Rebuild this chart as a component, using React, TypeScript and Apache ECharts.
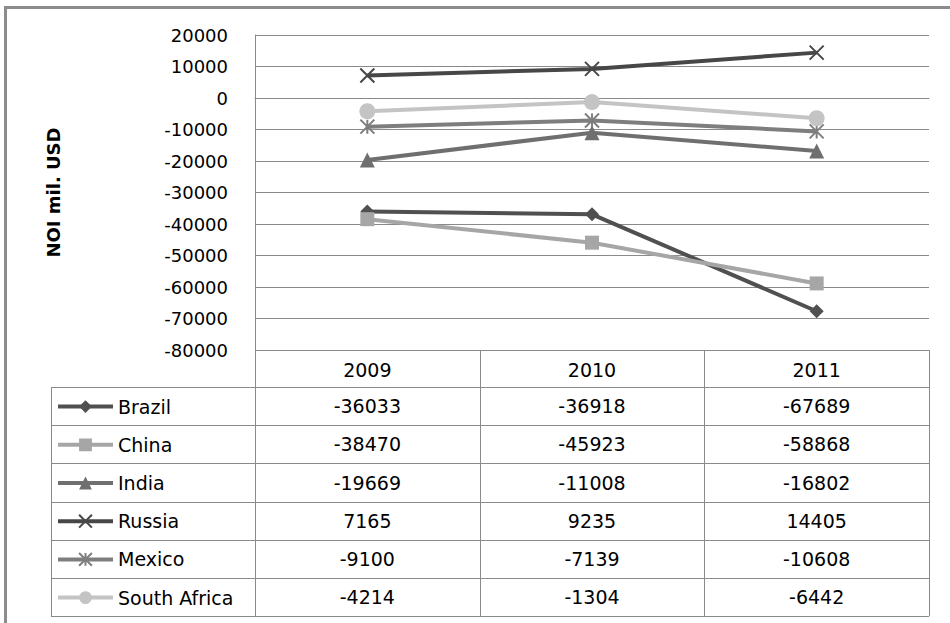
import React, { useEffect, useRef } from "react";
import * as echarts from "echarts";

// ---- data ----
const years = ["2009", "2010", "2011"];
const countries = ["Brazil", "China", "India", "Russia", "Mexico", "South Africa"];
const brazil = [-36033, -36918, -67689];
const china = [-38470, -45923, -58868];
const india = [-19669, -11008, -16802];
const russia = [7165, 9235, 14405];
const mexico = [-9100, -7139, -10608];
const southAfrica = [-4214, -1304, -6442];
const values = [brazil, china, india, russia, mexico, southAfrica];
const yMin = -80000;
const yMax = 20000;
const yStep = 10000;
const yTitle = "NOI mil. USD";

// ---- styles ----
const colors = ["#505050", "#a6a6a6", "#6f6f6f", "#474747", "#7e7e7e", "#c4c4c4"];
const symbols = [
  "diamond",
  "rect",
  "triangle",
  "path://M0,0L10,10M10,0L0,10",
  "path://M0,0L10,10M10,0L0,10M5,0L5,10",
  "circle",
];
const symbolSizes = [14, 14, 15, 14, 14, 16];
const FONT = "DejaVu Sans";
const GRID_COLOR = "#8a8a8a";

const W = 950;
const H = 623;
const GRID_L = 255;
const GRID_R = 929;
const GRID_T = 35;
const GRID_B = 350;
const HEADER_H = 37;
const ROW_H = 38.2;
const TABLE_L = 51;

export default function App() {
  const ref = useRef<HTMLDivElement>(null);

  useEffect(() => {
    document.body.style.margin = "0";
    const chart = echarts.init(ref.current!, null, { renderer: "svg" });
    const rowsTop = GRID_B + HEADER_H;
    const rowCenter = (i: number) => rowsTop + ROW_H * i + ROW_H / 2;

    const series = countries.map((name, i) => {
      const isStroke = i === 3 || i === 4;
      return {
        name,
        type: "line",
        data: values[i],
        symbol: symbols[i],
        symbolSize: symbolSizes[i],
        showAllSymbol: true,
        lineStyle: { color: colors[i], width: 4 },
        itemStyle: isStroke
          ? { color: "rgba(0,0,0,0)", borderColor: colors[i], borderWidth: 2 }
          : { color: colors[i], borderWidth: 0 },
        emphasis: { disabled: true },
        z: 2 + i,
      };
    });

    const legends = countries.map((name, i) => ({
      data: [name],
      left: 56,
      top: rowCenter(i) - 9,
      orient: "vertical",
      itemWidth: 55,
      itemHeight: 16,
      padding: 0,
      selectedMode: false,
      lineStyle: { width: 4 },
      textStyle: { fontFamily: FONT, fontSize: 19, color: "#000", lineHeight: 16 },
    }));

    chart.setOption({
      animation: false,
      backgroundColor: "#fff",
      grid: { left: GRID_L, right: W - GRID_R, top: GRID_T, bottom: H - GRID_B, containLabel: false },
      legend: legends,
      xAxis: {
        type: "category",
        data: years,
        boundaryGap: true,
        axisLine: { show: true, lineStyle: { color: GRID_COLOR, width: 1 } },
        axisTick: { show: false },
        axisLabel: { margin: 10, fontFamily: FONT, fontSize: 19, color: "#000" },
        splitLine: { show: false },
      },
      yAxis: {
        type: "value",
        min: yMin,
        max: yMax,
        interval: yStep,
        axisLine: { show: true, lineStyle: { color: GRID_COLOR, width: 1 } },
        axisTick: { show: false },
        axisLabel: {
          margin: 27,
          fontFamily: FONT,
          fontSize: 18,
          color: "#000",
          formatter: (v: number) => String(v),
        },
        splitLine: { show: true, lineStyle: { color: GRID_COLOR, width: 1 } },
        name: yTitle,
        nameLocation: "middle",
        nameRotate: 90,
        nameGap: 193,
        nameTextStyle: { fontFamily: FONT, fontSize: 18, fontWeight: "bold", color: "#000" },
      },
      series,
    });

    // table built from the axis scale
    const centers = years.map((y) => chart.convertToPixel({ xAxisIndex: 0 }, y) as number);
    const band = centers.length > 1 ? centers[1] - centers[0] : GRID_R - GRID_L;
    const bottom = rowsTop + ROW_H * countries.length;
    const lineStyle = { stroke: GRID_COLOR, lineWidth: 1 };
    const graphic: any[] = [];
    // outer frame
    graphic.push({ type: "line", shape: { x1: 4, y1: 7.5, x2: W, y2: 7.5 }, style: { stroke: "#8c8c8c", lineWidth: 3 } });
    graphic.push({ type: "line", shape: { x1: 5.5, y1: 6, x2: 5.5, y2: H }, style: { stroke: "#8c8c8c", lineWidth: 3 } });
    // horizontal lines
    for (let i = 0; i <= countries.length; i++) {
      const y = Math.round(rowsTop + ROW_H * i) + 0.5;
      graphic.push({ type: "line", shape: { x1: TABLE_L, y1: y, x2: centers[centers.length - 1] + band / 2, y2: y }, style: lineStyle });
    }
    // vertical lines
    graphic.push({ type: "line", shape: { x1: TABLE_L + 0.5, y1: rowsTop, x2: TABLE_L + 0.5, y2: bottom }, style: lineStyle });
    centers.forEach((c, j) => {
      const x = Math.round(c - band / 2) + 0.5;
      graphic.push({ type: "line", shape: { x1: x, y1: GRID_B, x2: x, y2: bottom }, style: lineStyle });
      if (j === centers.length - 1) {
        const xr = Math.round(c + band / 2) + 0.5;
        graphic.push({ type: "line", shape: { x1: xr, y1: GRID_B, x2: xr, y2: bottom }, style: lineStyle });
      }
    });
    // values
    values.forEach((arr, i) => {
      arr.forEach((v, j) => {
        graphic.push({
          type: "text",
          x: centers[j],
          y: rowCenter(i),
          style: {
            text: String(v),
            align: "center",
            verticalAlign: "middle",
            fontFamily: FONT,
            fontSize: 19,
            fill: "#000",
          },
        });
      });
    });
    chart.setOption({ graphic });

    return () => chart.dispose();
  }, []);

  return <div ref={ref} style={{ width: W, height: H }} />;
}
